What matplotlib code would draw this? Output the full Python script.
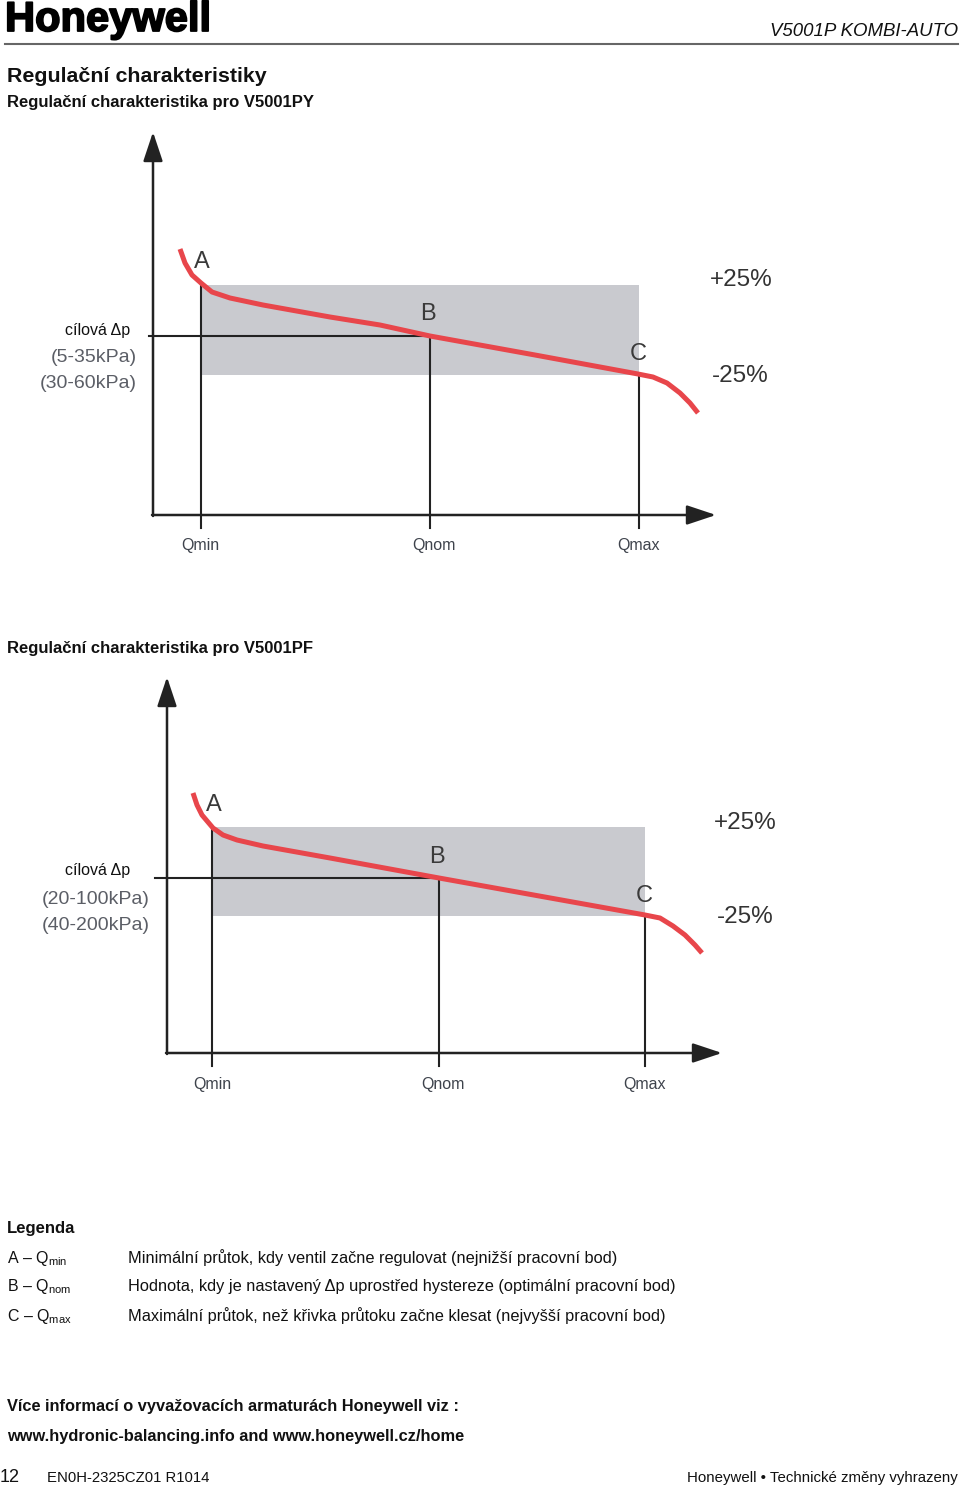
"""
Honeywell V5001P KOMBI-AUTO - regulation characteristics page (CZ).
Two Δp-vs-flow sketches plus legend and footer.
"""
import matplotlib
matplotlib.use("Agg")
import matplotlib.pyplot as plt
from matplotlib import font_manager
from matplotlib.lines import Line2D
import matplotlib.patheffects as pe

W, H = 960, 1489

# --- chart data: units are drawing units measured from the axis origin ---
# V5001PY
py_q_labels = ["Qmin", "Qnom", "Qmax"]
py_q_points = [48, 277, 486]
py_target_dp = 179
py_band = [140, 230]                     # -25% .. +25% band around target
py_curve_q = [27, 32, 39, 48, 59, 77, 110, 177, 227, 277, 382, 485,
              500, 514, 527, 537, 545]
py_curve_dp = [266, 252, 240, 232, 223, 217, 210, 198, 190, 179, 160, 141,
               138, 132, 122, 112, 102]
py_ranges = ["(5-35kPa)", "(30-60kPa)"]

# V5001PF
pf_q_labels = ["Qmin", "Qnom", "Qmax"]
pf_q_points = [45, 272, 478]
pf_target_dp = 175
pf_band = [137, 226]
pf_curve_q = [26, 30, 35, 46, 56, 70, 96, 163, 272, 478,
              493, 506, 518, 528, 535]
pf_curve_dp = [260, 248, 238, 225, 218, 213, 207, 195, 175, 138,
               135, 127, 118, 108, 100]
pf_ranges = ["(20-100kPa)", "(40-200kPa)"]

point_names = ["A", "B", "C"]

legend_keys = ["A – Q$_\\mathregular{min}$", "B – Q$_\\mathregular{nom}$", "C – Q$_\\mathregular{max}$"]
legend_texts = [
    "Minimální průtok, kdy ventil začne regulovat (nejnižší pracovní bod)",
    "Hodnota, kdy je nastavený Δp uprostřed hystereze (optimální pracovní bod)",
    "Maximální průtok, než křivka průtoku začne klesat (nejvyšší pracovní bod)",
]

# --- fonts ---
available = {f.name for f in font_manager.fontManager.ttflist}
SANS = "Liberation Sans"
NARROW = "Liberation Sans Narrow" if "Liberation Sans Narrow" in available else SANS
plt.rcParams["font.family"] = [SANS, "DejaVu Sans"]
plt.rcParams["mathtext.fontset"] = "custom"
plt.rcParams["mathtext.rm"] = NARROW

RED = "#e8464b"
BAND = "#c9cacf"
INK = "#222222"
GREY_TXT = "#5b5e66"

fig = plt.figure(figsize=(W / 100, H / 100), dpi=100)


def fx(px):
    return px / W


def fy(py):
    return 1 - py / H


def draw_chart(top, bottom, ox, oy, tip_x, tip_y, q_points, q_labels, target,
               band, cq, cdp, ranges, lbl_pos, line_start):
    # axes covering full width; 1 data unit == 1 pixel, origin at the axis corner
    ax = fig.add_axes([0, fy(bottom), 1, (bottom - top) / H])
    ax.set_xlim(-ox, W - ox)
    ax.set_ylim(oy - bottom, oy - top)
    ax.axis("off")

    ax.fill_between([q_points[0], q_points[2]], band[0], band[1],
                    color=BAND, lw=0, zorder=1)

    # dp target line and flow verticals
    ax.plot([line_start, q_points[1]], [target, target], color=INK, lw=1.5, zorder=2)
    tops = [band[1], target, band[0]]
    for q, t in zip(q_points, tops):
        ax.plot([q, q], [-13, t], color=INK, lw=1.5, zorder=2)

    # axes with arrow heads
    style = "-|>,head_length=1.8,head_width=0.6"
    ax.annotate("", xy=(tip_x, 0), xytext=(-1, 0),
                arrowprops=dict(arrowstyle=style, color=INK, lw=1.8,
                                mutation_scale=10, shrinkA=0, shrinkB=0))
    ax.annotate("", xy=(0, tip_y), xytext=(0, -1),
                arrowprops=dict(arrowstyle=style, color=INK, lw=1.8,
                                mutation_scale=10, shrinkA=0, shrinkB=0))

    ax.plot(cq, cdp, color=RED, lw=3.6, solid_capstyle="butt",
            solid_joinstyle="round", zorder=3)

    for name, (x, y) in zip(point_names, lbl_pos["pts"]):
        ax.text(x, y, name, fontsize=17, color="#3a3a3a", ha="center", va="center")
    for txt, (x, y) in zip(["+25%", "-25%"], lbl_pos["pct"]):
        ax.text(x, y, txt, fontsize=17.5, color="#333333", ha="center", va="center")

    x, y = lbl_pos["target"]
    ax.text(x, y, "cílová Δp", fontsize=11.5, color="#111111", ha="right", va="center")
    for txt, (x, y) in zip(ranges, lbl_pos["ranges"]):
        ax.text(x, y, txt, fontsize=14, color=GREY_TXT, ha="right", va="center")
    for q, txt, dx in zip(q_points, q_labels, lbl_pos["qdx"]):
        ax.text(q + dx, lbl_pos["qy"], txt, fontsize=11.5, color="#3e434c",
                ha="center", va="center")
    return ax


draw_chart(110, 560, 153, 515, 563, 383, py_q_points, py_q_labels, py_target_dp,
           py_band, py_curve_q, py_curve_dp, py_ranges,
           {"pts": [(49, 253), (275, 201), (485, 161)],
            "pct": [(588, 235), (587, 139)],
            "target": (-23, 184),
            "ranges": [(-16, 157), (-16, 131)],
            "qdx": [-1, 4, 0], "qy": -30},
           -4)

draw_chart(655, 1100, 167, 1053, 555, 376, pf_q_points, pf_q_labels, pf_target_dp,
           pf_band, pf_curve_q, pf_curve_dp, pf_ranges,
           {"pts": [(47, 248), (270, 196), (477, 157)],
            "pct": [(578, 230), (578, 136)],
            "target": (-37, 182),
            "ranges": [(-17, 153), (-17, 127)],
            "qdx": [0, 4, 0], "qy": -31},
           -12)

# --- header ---
fig.text(fx(5), fy(20), "Honeywell", fontsize=30, fontweight="bold", color="black",
         ha="left", va="center",
         path_effects=[pe.withStroke(linewidth=1.3, foreground="black")])
fig.text(fx(958), fy(31), "V5001P KOMBI-AUTO", fontsize=13.4, style="italic",
         color="#111111", ha="right", va="center")
fig.add_artist(Line2D([fx(5), fx(958)], [fy(44), fy(44)], color="#666666", lw=1.5))

fig.text(fx(7), fy(77), "Regulační charakteristiky", family=[NARROW, "DejaVu Sans"],
         fontsize=15.4, fontweight="bold", color="#111111", ha="left", va="center")
fig.text(fx(7), fy(103), "Regulační charakteristika pro V5001PY", fontsize=12,
         fontweight="bold", color="#111111", ha="left", va="center")
fig.text(fx(7), fy(648), "Regulační charakteristika pro V5001PF", fontsize=12,
         fontweight="bold", color="#111111", ha="left", va="center")

# --- legend ---
fig.text(fx(7), fy(1229), "Legenda", family=[NARROW, "DejaVu Sans"], fontsize=12,
         fontweight="bold", color="#111111", ha="left", va="center")
for i, (k, t) in enumerate(zip(legend_keys, legend_texts)):
    y = 1258 + 29 * i
    fig.text(fx(7), fy(y), k, family=[NARROW, "DejaVu Sans"], fontsize=11.5,
             color="#111111", ha="left", va="center")
    fig.text(fx(128), fy(y), t, family=[NARROW, "DejaVu Sans"], fontsize=11.8,
             color="#111111", ha="left", va="center")

# --- footer ---
fig.text(fx(7), fy(1407), "Více informací o vyvažovacích armaturách Honeywell viz :",
         family=[NARROW, "DejaVu Sans"], fontsize=11.8, fontweight="bold",
         color="#111111", ha="left", va="center")
fig.text(fx(7), fy(1436), "www.hydronic-balancing.info and www.honeywell.cz/home",
         family=[NARROW, "DejaVu Sans"], fontsize=11.8, fontweight="bold",
         color="#111111", ha="left", va="center")
fig.text(fx(0), fy(1478), "12", family=[NARROW, "DejaVu Sans"], fontsize=13,
         color="#111111", ha="left", va="center")
fig.text(fx(47), fy(1478), "EN0H-2325CZ01 R1014", family=[NARROW, "DejaVu Sans"],
         fontsize=10.7, color="#111111", ha="left", va="center")
fig.text(fx(958), fy(1478), "Honeywell • Technické změny vyhrazeny",
         family=[NARROW, "DejaVu Sans"], fontsize=10.8, color="#111111",
         ha="right", va="center")

fig.savefig("out.png", dpi=100)
